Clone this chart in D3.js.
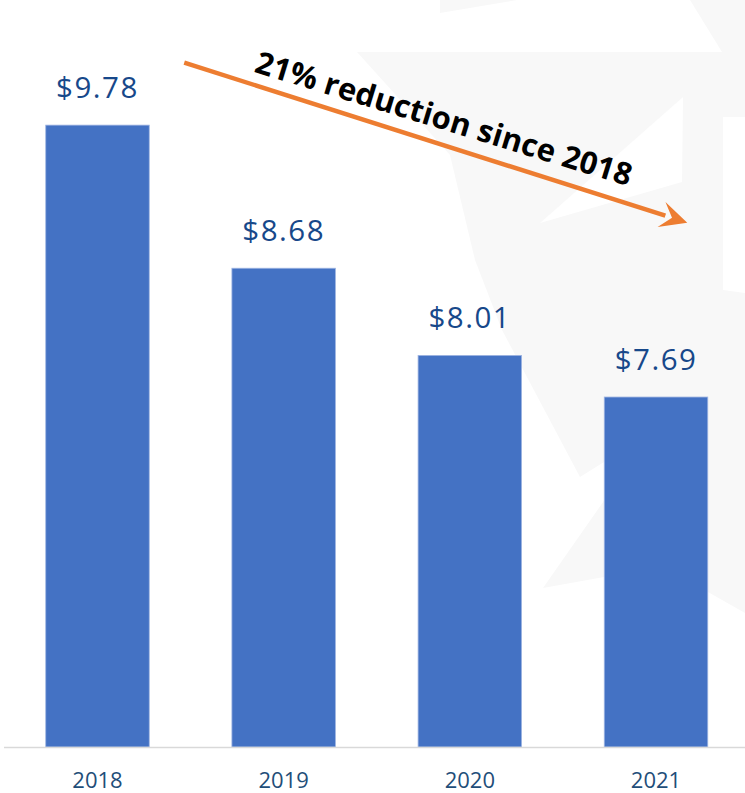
<!DOCTYPE html>
<html>
<head>
<meta charset="utf-8">
<script src="https://cdn.jsdelivr.net/npm/d3@7"></script>
<style>
  html, body { margin: 0; padding: 0; background: #ffffff; }
  svg { display: block; }
</style>
</head>
<body>
<svg id="chart" width="745" height="793"></svg>
<script>
// ---- data ----
const categories = ["2018", "2019", "2020", "2021"];
const values = [9.78, 8.68, 8.01, 7.69];
const valueLabels = ["$9.78", "$8.68", "$8.01", "$7.69"];
const annotationText = "21% reduction since 2018";
// arrow endpoints expressed in data space (value) + category
const arrowFromValue = 10.26;
const arrowToValue = 9.03;

// ---- layout ----
const W = 745, H = 793;
const baseY = 747;
const pxPerUnit = 130.1;
const yMin = 5, yMax = 10.5;

const svg = d3.select("#chart");

// faint background watermark (decorative)
const wm = svg.append("g");
wm.append("polygon")
  .attr("points", "357,52 722,52 690,0 745,0 745,613 708,592 604,577 543,588 652,432 580,477 502,330 475,260 450,155")
  .attr("fill", "#f8f8f8");
wm.append("polygon").attr("points", "440,0 517,0 440,13").attr("fill", "#f8f8f8");
wm.append("polygon").attr("points", "683,97 540,223 682,182").attr("fill", "#ffffff");
wm.append("polygon").attr("points", "723,117 745,117 745,293 723,290").attr("fill", "#ffffff");

const x = d3.scaleBand()
  .domain(categories)
  .range([4.4, 749.1])
  .paddingInner(0.444)
  .paddingOuter(0.222);

const y = d3.scaleLinear()
  .domain([yMin, yMax])
  .range([baseY, baseY - (yMax - yMin) * pxPerUnit]);

const data = categories.map((c, i) => ({ cat: c, v: values[i], label: valueLabels[i] }));

// bars
svg.append("g").selectAll("rect")
  .data(data)
  .join("rect")
  .attr("x", d => x(d.cat))
  .attr("y", d => y(d.v))
  .attr("width", x.bandwidth())
  .attr("height", d => y(yMin) - y(d.v))
  .attr("fill", "#4472C4")
  .attr("stroke", "#9fb5e2")
  .attr("stroke-width", 0.8);

// axis (category) line + labels
const xAxis = d3.axisBottom(x).tickSize(0).tickPadding(0);
const axG = svg.append("g").attr("transform", `translate(0,${baseY})`).call(xAxis);
axG.select(".domain").remove();
axG.append("line")
  .attr("x1", 4).attr("x2", 745).attr("y1", 0.5).attr("y2", 0.5)
  .attr("stroke", "#d9d9d9").attr("stroke-width", 1.6);
axG.selectAll(".tick text")
  .attr("y", 40.5)
  .attr("dy", null)
  .attr("fill", "#1f4e79")
  .style("font-family", "'Open Sans', sans-serif")
  .style("font-size", "22px");

// value labels
svg.append("g").selectAll("text")
  .data(data)
  .join("text")
  .attr("x", d => x(d.cat) + x.bandwidth() / 2)
  .attr("y", d => y(d.v) - 27)
  .attr("text-anchor", "middle")
  .attr("fill", "#17488a")
  .style("font-family", "'Open Sans', sans-serif")
  .style("font-size", "29.5px")
  .style("letter-spacing", "1.5px")
  .text(d => d.label);

// arrow annotation
const ax1 = x("2018") + x.bandwidth() + 35;
const ay1 = y(arrowFromValue);
const ax2 = x("2021") + 83;
const ay2 = y(arrowToValue);
const ang = Math.atan2(ay2 - ay1, ax2 - ax1);
const headLen = 27, headHalf = 13, notch = 11;
const ux = Math.cos(ang), uy = Math.sin(ang);
const px = -uy, py = ux;
const shaftEndX = ax2 - ux * (headLen - 4), shaftEndY = ay2 - uy * (headLen - 4);
svg.append("line")
  .attr("x1", ax1).attr("y1", ay1)
  .attr("x2", shaftEndX).attr("y2", shaftEndY)
  .attr("stroke", "#ED7D31").attr("stroke-width", 4.5);
const bx = ax2 - ux * headLen, by = ay2 - uy * headLen;
const head = [
  [ax2, ay2],
  [bx + px * headHalf, by + py * headHalf],
  [ax2 - ux * (headLen - notch), ay2 - uy * (headLen - notch)],
  [bx - px * headHalf, by - py * headHalf]
];
svg.append("polygon")
  .attr("points", head.map(p => p.join(",")).join(" "))
  .attr("fill", "#ED7D31");

// annotation text
const tx = x("2018") + x.bandwidth() + 104;
const ty = y(arrowFromValue) + 9;
svg.append("text")
  .attr("transform", `translate(${tx},${ty}) rotate(17)`)
  .attr("text-anchor", "start")
  .attr("fill", "#000000")
  .attr("textLength", 392)
  .attr("lengthAdjust", "spacing")
  .style("font-family", "'Open Sans', sans-serif")
  .style("font-weight", "700")
  .style("font-size", "31px")
  .text(annotationText);
</script>
</body>
</html>
